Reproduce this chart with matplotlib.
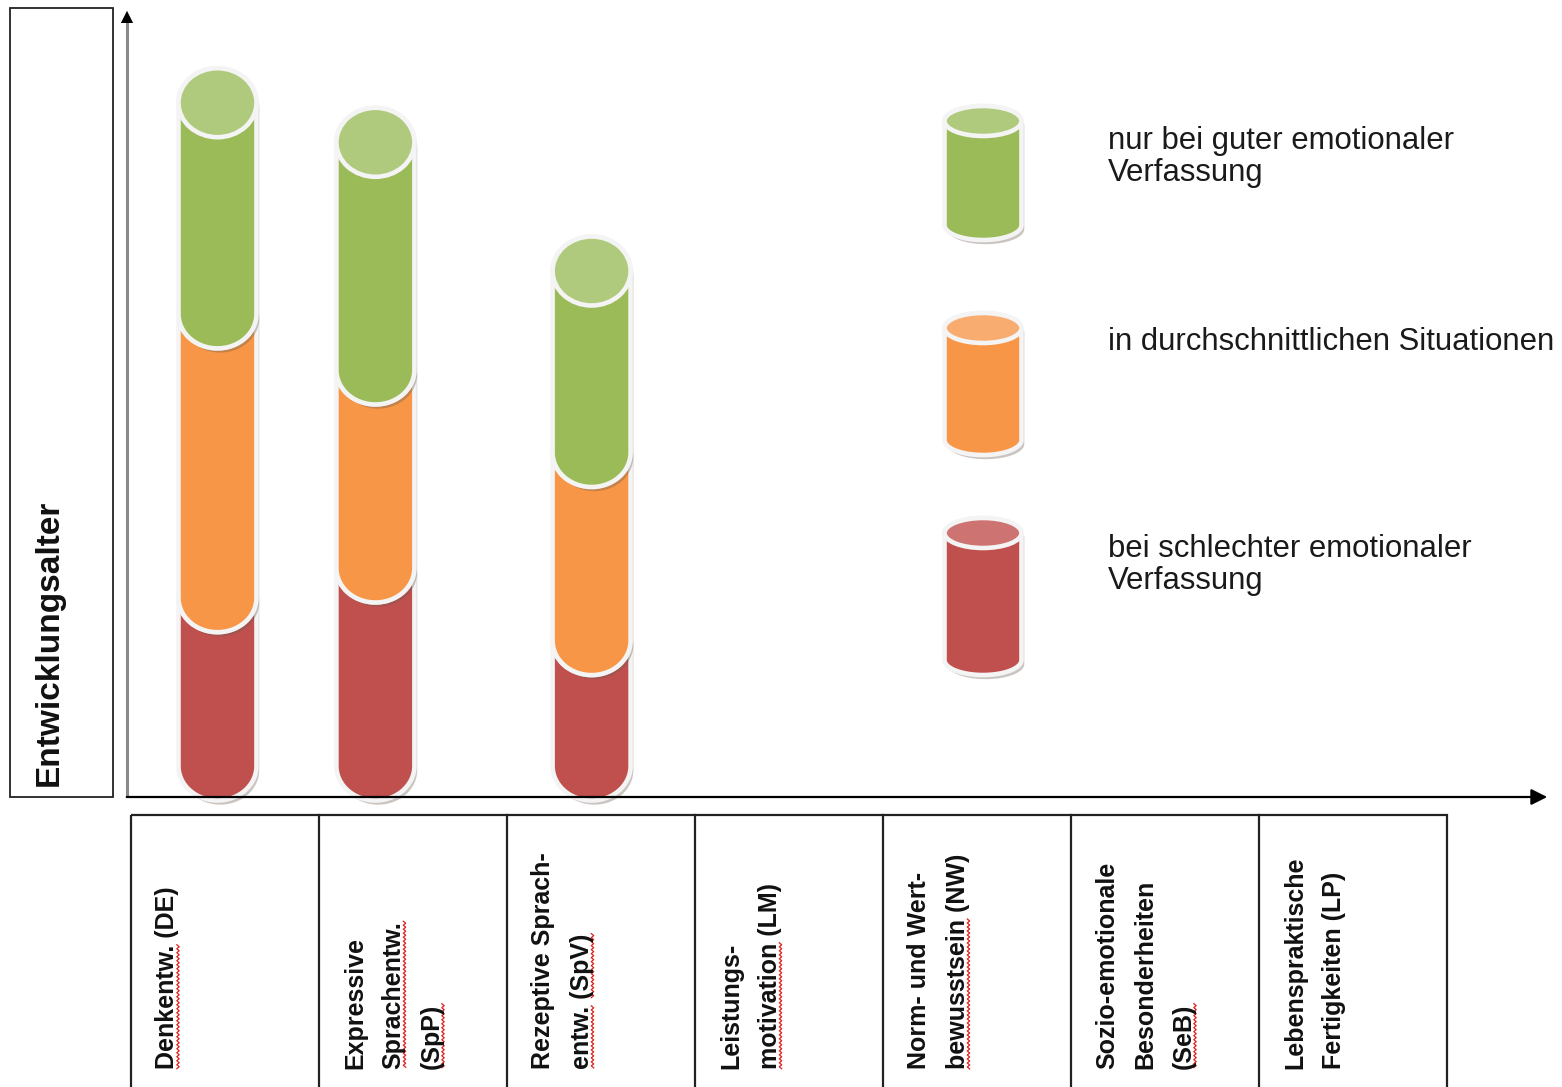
import numpy as np
import matplotlib
matplotlib.use("Agg")
import matplotlib.pyplot as plt
from matplotlib.patches import Polygon, Ellipse, Rectangle
import matplotlib.patheffects as pe

plt.rcParams['font.family'] = ['Liberation Sans', 'DejaVu Sans']

### data
categories = ["Denkentw. (DE)",
              "Expressive\nSprachentw.\n(SpP)",
              "Rezeptive Sprach-\nentw. (SpV)",
              "Leistungs-\nmotivation (LM)",
              "Norm- und Wert-\nbewusstsein (NW)",
              "Sozio-emotionale\nBesonderheiten\n(SeB)",
              "Lebenspraktische\nFertigkeiten (LP)"]
# words marked by the spell checker in the original (red wavy line)
flagged = ["Denkentw.", "Sprachentw.", "(SpP)", "entw.", "(SpV)", "motivation",
           "bewusstsein", "(SeB)"]
series_names = ["nur bei guter emotionaler\nVerfassung",
                "in durchschnittlichen Situationen",
                "bei schlechter emotionaler\nVerfassung"]
# stacked values (only the first three areas are filled)
low = [2.55, 3.0, 1.9]     # bei schlechter emotionaler Verfassung
mid = [4.3, 3.0, 2.85]     # in durchschnittlichen Situationen
high = [3.2, 3.45, 2.75]   # nur bei guter emotionaler Verfassung
y_label = "Entwicklungsalter"

body_col = {"low": "#C0504D", "mid": "#F79646", "high": "#9BBB59"}
top_col = {"low": "#CD7371", "mid": "#F9AC70", "high": "#AFCA7C"}

### layout (pixels)
W, H = 1562, 1087
cell_w = 188
cell_x0 = 131
base_y = 766        # pixel row of value 0
unit_px = 66        # pixels per value unit
bar_pos = [-0.04, 0.80, 1.95]   # cylinder centres in category units


def cyl_poly(cx, ybot, ytop, rx, ry, **kw):
    d = 1 if ytop > ybot else -1
    t = np.linspace(np.pi, 2 * np.pi, 60)
    t2 = np.linspace(0, np.pi, 60)
    xs = np.concatenate([cx + rx * np.cos(t), cx + rx * np.cos(t2)])
    ys = np.concatenate([ybot + d * ry * np.sin(t), ytop + d * ry * np.sin(t2)])
    return Polygon(np.column_stack([xs, ys]), closed=True, **kw)


shadow = [pe.SimplePatchShadow(offset=(2, -3), shadow_rgbFace="#6b5a50", alpha=0.35), pe.Normal()]


def draw_cyl(a, cx, ybot, ytop, rx, ry, key, z, lw=3.3):
    a.add_patch(cyl_poly(cx, ybot, ytop, rx, ry, facecolor=body_col[key], edgecolor="#f4f4f4",
                         lw=lw, zorder=z, path_effects=shadow))
    a.add_patch(Ellipse((cx, ytop), 2 * rx, 2 * ry, facecolor=top_col[key], edgecolor="#f4f4f4",
                        lw=lw, zorder=z + 0.5))


fig = plt.figure(figsize=(W / 100, H / 100), dpi=100)
renderer = fig.canvas.get_renderer()

# data axes: x in category units, y in value units
ax = fig.add_axes([0, 0, 1, 1])
ax.set_xlim((0 - (cell_x0 + cell_w / 2)) / cell_w, (W - (cell_x0 + cell_w / 2)) / cell_w)
ax.set_ylim((base_y - H) / unit_px, base_y / unit_px)
ax.axis("off")

rx = 39 / cell_w
ry = 34.5 / unit_px
for i, cx in enumerate(bar_pos):
    b = 0
    z = 2
    for key, vals in (("low", low), ("mid", mid), ("high", high)):
        draw_cyl(ax, cx, b, b + vals[i], rx, ry, key, z)
        b += vals[i]
        z += 1

# decoration axes in pixels
deco = fig.add_axes([0, 0, 1, 1])
deco.set_xlim(0, W)
deco.set_ylim(H, 0)
deco.axis("off")
deco.patch.set_alpha(0)

# y label box
deco.add_patch(Rectangle((10, 8), 103, 789, fill=False, edgecolor="#222222", lw=1.3))
deco.text(49, 786, y_label, rotation=90, rotation_mode="anchor", ha="left", va="center",
          fontsize=24, fontweight="bold", color="#111111")

# axes arrows
deco.plot([127, 127], [797, 22], color="#8a8a8a", lw=2.2, solid_capstyle="butt")
deco.annotate("", xy=(127, 8), xytext=(127, 26),
              arrowprops=dict(arrowstyle="-|>", color="black", lw=0, mutation_scale=22))
deco.annotate("", xy=(1550, 797), xytext=(124, 797),
              arrowprops=dict(arrowstyle="-|>", color="black", lw=1.6, mutation_scale=24))

# category table
ncat = len(categories)
lab_font = dict(fontsize=18, fontweight="bold")
deco.add_patch(Rectangle((cell_x0, 815), cell_w * ncat, 400, fill=False, edgecolor="#222222", lw=1.6))
for i in range(1, ncat):
    deco.plot([cell_x0 + cell_w * i] * 2, [815, H + 5], color="#222222", lw=1.6)


def text_len(s):
    t = deco.text(0, 0, s, **lab_font)
    w = t.get_window_extent(renderer).width
    t.remove()
    return w


y_start = 1069
for i, lab in enumerate(categories):
    for k, line in enumerate(lab.split("\n")):
        xc = cell_x0 + cell_w * i + 36 + 38.5 * k
        deco.text(xc, y_start, line, rotation=90, rotation_mode="anchor", ha="left", va="center",
                  color="#111111", **lab_font)
        for word in flagged:
            pos = line.find(word)
            if pos < 0 or (word == "entw." and line != "entw. (SpV)"):
                continue
            s0 = text_len(line[:pos]) if pos > 0 else 0
            s1 = text_len(line[:pos + len(word)])
            yy = np.arange(y_start - s1, y_start - s0 + 0.1, 2.0)
            xx = xc + 11 + np.where(np.arange(len(yy)) % 2 == 0, -1.2, 1.2)
            deco.plot(xx, yy, color="#e02020", lw=0.9)

# legend
leg_cx = 983
leg_rows = [("high", 104, 242, 157), ("mid", 311, 457, 342), ("low", 516, 677, 565)]
for (key, ytop, ybot, ytext), name in zip(leg_rows, series_names):
    draw_cyl(deco, leg_cx, ybot - 17, ytop + 17, 38.5, 15, key, 2)
    deco.text(1108, ytext, name, ha="left", va="center", fontsize=22.4, color="#1a1a1a",
              linespacing=1.1)

fig.savefig("out.png", dpi=100)
